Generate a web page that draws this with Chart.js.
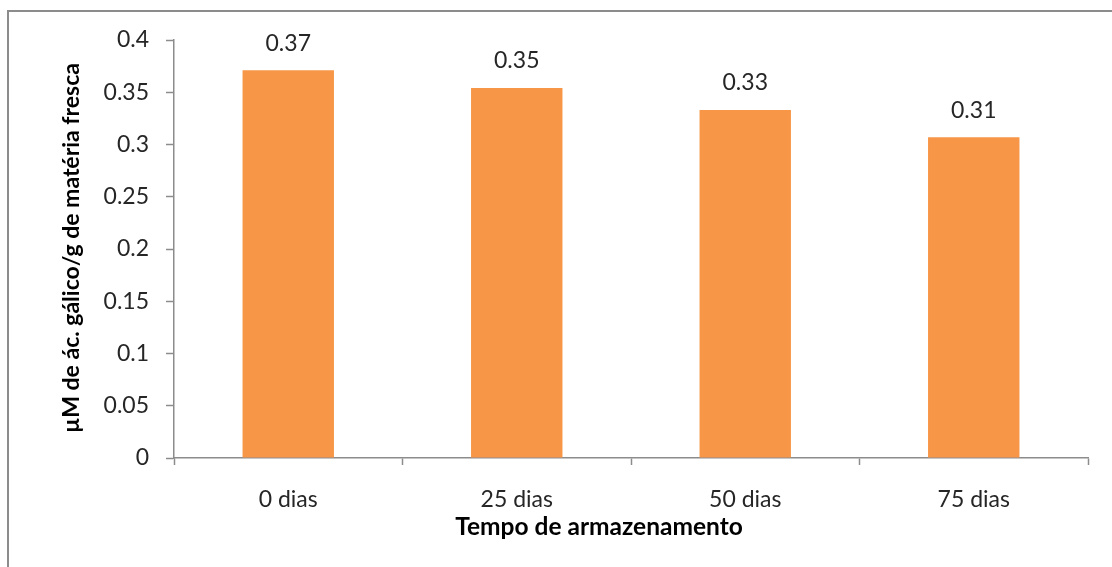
<!DOCTYPE html>
<html>
<head>
<meta charset="utf-8">
<script src="https://cdn.jsdelivr.net/npm/chart.js@4/dist/chart.umd.min.js"></script>
<style>
  html, body { margin: 0; padding: 0; background: #ffffff; }
  #wrap { width: 1112px; height: 567px; position: relative; }
</style>
</head>
<body>
<div id="wrap"><canvas id="c" width="1112" height="567"></canvas></div>
<script>
// Storage time categories and mean gallic acid content
const categories = ['0 dias', '25 dias', '50 dias', '75 dias'];
const gallicAcid = [0.371, 0.354, 0.333, 0.307];
const yTicks = [0, 0.05, 0.1, 0.15, 0.2, 0.25, 0.3, 0.35, 0.4];
const xTitle = 'Tempo de armazenamento';
const yTitle = 'µM de ác. gálico/g de matéria fresca';

const FONT = 'Lato, "Open Sans", sans-serif';
const AXIS = '#8c8c8c';
const TEXT = '#262626';

// Outer frame, value labels above the bars and the two axis titles
const decorations = {
  id: 'decorations',
  beforeDraw(chart) {
    const ctx = chart.ctx;
    ctx.save();
    ctx.fillStyle = '#ffffff';
    ctx.fillRect(0, 0, chart.width, chart.height);
    ctx.strokeStyle = AXIS;
    ctx.lineWidth = 2;
    ctx.strokeRect(8, 11, chart.width + 20, chart.height + 20);
    ctx.restore();
  },
  afterDatasetsDraw(chart) {
    const ctx = chart.ctx;
    const area = chart.chartArea;
    ctx.save();
    ctx.font = '23px ' + FONT;
    ctx.fillStyle = TEXT;
    ctx.textAlign = 'center';
    ctx.textBaseline = 'middle';
    chart.getDatasetMeta(0).data.forEach((bar, i) => {
      ctx.fillText(gallicAcid[i].toFixed(2), bar.x, bar.y - 27);
    });

    ctx.fillStyle = '#000000';
    ctx.font = 'bold 24.5px ' + FONT;
    ctx.fillText(xTitle, (area.left + area.right) / 2 - 32, area.bottom + 69);

    ctx.font = 'bold 23px ' + FONT;
    ctx.translate(area.left - 102, (area.top + area.bottom) / 2 - 1);
    ctx.rotate(-Math.PI / 2);
    ctx.fillText(yTitle, 0, 0);
    ctx.restore();
  }
};

new Chart(document.getElementById('c'), {
  type: 'bar',
  data: {
    labels: categories,
    datasets: [{
      data: gallicAcid,
      backgroundColor: '#f79646',
      borderWidth: 0,
      barPercentage: 0.4,
      categoryPercentage: 1.0
    }]
  },
  options: {
    responsive: false,
    animation: false,
    layout: { padding: { top: 40, right: 24, left: 0, bottom: 0 } },
    plugins: { legend: { display: false }, tooltip: { enabled: false } },
    scales: {
      x: {
        grid: {
          offset: true,
          drawOnChartArea: false,
          drawTicks: true,
          tickLength: 7,
          tickColor: AXIS,
          tickWidth: 1.5
        },
        border: { display: true, color: AXIS, width: 1.5 },
        ticks: {
          color: TEXT,
          font: { family: FONT, size: 23 },
          padding: 21
        },
        afterFit(scale) { scale.height = 109; }
      },
      y: {
        min: 0,
        max: 0.4,
        afterBuildTicks(scale) { scale.ticks = yTicks.map(v => ({ value: v })); },
        grid: {
          drawOnChartArea: false,
          drawTicks: true,
          tickLength: 8,
          tickColor: AXIS,
          tickWidth: 1.5
        },
        border: { display: true, color: AXIS, width: 1.5 },
        ticks: {
          color: TEXT,
          font: { family: FONT, size: 23 },
          padding: 17,
          callback: v => String(+v.toFixed(2))
        },
        afterFit(scale) { scale.width = 174; }
      }
    }
  },
  plugins: [decorations]
});
</script>
</body>
</html>
